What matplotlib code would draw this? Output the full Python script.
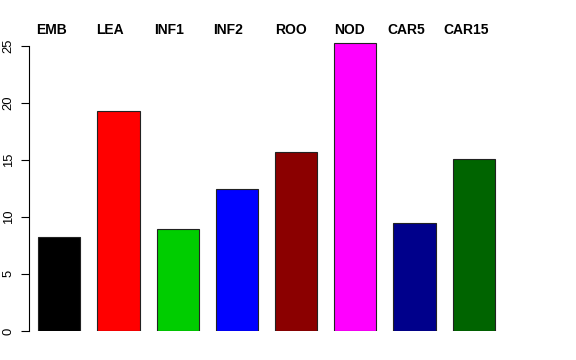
import matplotlib
matplotlib.use("Agg")
import matplotlib.pyplot as plt
import numpy as np

plt.rcParams["font.family"] = ["Liberation Sans", "DejaVu Sans"]

tissues = ["EMB", "LEA", "INF1", "INF2", "ROO", "NOD", "CAR5", "CAR15"]
values = [8.25, 19.3, 8.98, 12.43, 15.7, 25.25, 9.42, 15.05]
colors = ["#000000", "#FF0000", "#00CD00", "#0000FF",
          "#8B0000", "#FF00FF", "#00008B", "#006400"]
# label left edges relative to bar centers (data units), as in the original
label_shift = [-0.39, -0.37, -0.40, -0.40, -0.36, -0.36, -0.45, -0.51]

fig = plt.figure(figsize=(5.76, 3.6), dpi=100)
ax = fig.add_axes([0.0503, 0.0806, 0.8872, 0.8222])

x = np.arange(len(tissues))
ax.bar(x, values, width=0.71, color=colors, edgecolor="#222222", linewidth=0.8)

ax.set_xlim(-0.512, 8.12)
ax.set_ylim(0, 25.94)
for s in ("top", "right", "bottom"):
    ax.spines[s].set_visible(False)
ax.spines["left"].set_bounds(0, 25)
ax.spines["left"].set_linewidth(0.8)
ax.set_xticks([])
ax.set_yticks([0, 5, 10, 15, 20, 25])
ax.tick_params(axis="y", length=5.8, width=0.8, pad=4.5, labelsize=9.4)
for lab in ax.get_yticklabels():
    lab.set_rotation(90)
    lab.set_va("center")

# tissue names above the plot, ~30 px from the top of the figure
label_y = 1 + (35 - 30.5) / 296
for xi, name, sh in zip(x, tissues, label_shift):
    ax.text(xi + sh, label_y, name, transform=ax.get_xaxis_transform(),
            ha="left", va="center", fontsize=10, fontweight="bold")

fig.savefig("out.png", dpi=100)
